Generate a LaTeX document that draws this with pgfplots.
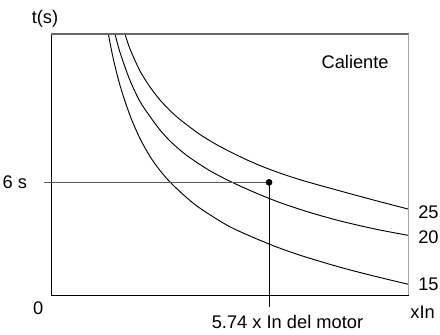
\documentclass[border=0pt]{standalone}
\usepackage{fontspec}
\setmainfont{Liberation Sans}
\usepackage{pgfplots}
\pgfplotsset{compat=1.18}

\begin{document}
\fontsize{13.7}{16}\selectfont
\begin{tikzpicture}
\begin{axis}[
    scale only axis,
    width=268.1pt,
    height=195.75pt,
    xmin=0, xmax=9.41,
    ymin=0, ymax=13.9,
    axis lines=left,
    axis line style={-, line width=0.75pt, black},
    xtick=\empty, ytick=\empty,
    clip=false,
]

% curva 15
\addplot[smooth, line width=0.7pt] coordinates {
    (1.509,13.9) (1.632,12.646) (1.817,11.155) (2.080,9.558) (2.343,8.333)
    (2.607,7.375) (2.870,6.629) (3.133,6.017) (3.528,5.261) (3.923,4.622)
    (4.713,3.632) (5.740,2.716) (6.556,2.119) (7.609,1.480) (8.531,0.996)
    (9.400,0.575)
};
% curva 20
\addplot[smooth, line width=0.7pt] coordinates {
    (1.685,13.9) (1.817,12.913) (2.080,11.422) (2.343,10.304) (2.607,9.505)
    (2.870,8.786) (3.133,8.200) (3.397,7.721) (3.660,7.306) (4.186,6.613)
    (4.758,6.012) (5.371,5.453) (6.030,4.920) (6.819,4.393) (7.609,3.946)
    (8.531,3.514) (9.400,3.179)
};
% curva 25
\addplot[smooth, line width=0.7pt] coordinates {
    (1.948,13.9) (2.080,13.099) (2.343,11.928) (2.607,11.076) (2.870,10.383)
    (3.133,9.824) (3.397,9.345) (3.923,8.546) (4.450,7.907) (5.108,7.242)
    (5.766,6.683) (6.556,6.140) (7.609,5.543) (8.531,5.037) (9.400,4.579)
};

% lineas de lectura
\addplot[line width=0.9pt, gray!70!black] coordinates {(-0.184,6) (5.74,6)};
\addplot[line width=0.8pt, black] coordinates {(5.74,6) (5.74,-0.639)};
\addplot[only marks, mark=*, mark size=2.25pt, black] coordinates {(5.74,6)};

% marco superior y derecho
\draw[line width=0.8pt, gray!80!black] (rel axis cs:0,1) -- (rel axis cs:1,1);
\draw[line width=1.2pt, gray!70] (rel axis cs:1,1) -- (rel axis cs:1,0);

% textos
\node at (axis cs:-0.158,14.72) {t(s)};
\node[anchor=east] at (axis cs:-0.466,6) {6 s};
\node at (axis cs:-0.334,-0.708) {0};
\node at (axis cs:6.224,-1.44) {5.74 x In del motor};
\node[anchor=west, inner sep=0pt] at (axis cs:9.452,-0.93) {xIn};
\node[anchor=west, inner sep=0pt] at (axis cs:9.66,4.393) {25};
\node[anchor=west, inner sep=0pt] at (axis cs:9.66,3.062) {20};
\node[anchor=west, inner sep=0pt] at (axis cs:9.66,0.575) {15};
\node at (axis cs:8.004,12.40) {Caliente};
\end{axis}
\pgfresetboundingbox
\path[use as bounding box] ([shift={(-38.25pt,-29.25pt)}]current axis.south west)
    rectangle ([shift={(23.6pt,25.5pt)}]current axis.north east);
\end{tikzpicture}
\end{document}
